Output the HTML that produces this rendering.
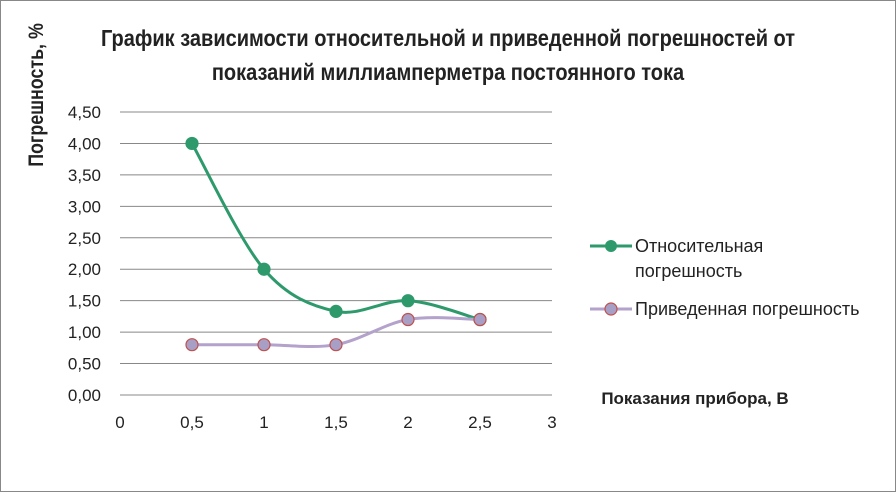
<!DOCTYPE html>
<html><head><meta charset="utf-8"><style>
body{margin:0;background:#fff}
svg text{font-family:"Liberation Sans",sans-serif}
</style></head><body>
<svg id="c" width="896" height="492" xmlns="http://www.w3.org/2000/svg">
<rect x="0.5" y="0.5" width="895" height="491" fill="#fff" stroke="#888"/>
<g font-weight="bold" font-size="23" text-anchor="middle" fill="#222">
<text x="448" y="46" transform="translate(448 0) scale(0.87 1) translate(-448 0)">График зависимости относительной и приведенной погрешностей от</text>
<text x="448" y="80" transform="translate(448 0) scale(0.87 1) translate(-448 0)">показаний миллиамперметра постоянного тока</text>
</g>
<text font-weight="bold" font-size="21" fill="#222" text-anchor="middle" transform="translate(43 95) rotate(-90) scale(0.85 1)">Погрешность, %</text>
<text x="695" y="404" font-weight="bold" font-size="17" fill="#222" text-anchor="middle">Показания прибора, В</text>
<g id="grid"></g>
<g id="ticks" font-size="17" fill="#222"></g>
<g id="series"></g>
<g font-size="18" fill="#222">
<g>
<line x1="590" y1="246" x2="632" y2="246" stroke="#2e9a6c" stroke-width="3"/>
<circle cx="611" cy="246" r="6" fill="#2e9a6c"/>
<text x="635" y="252">Относительная</text><text x="635" y="277">погрешность</text>
</g>
<g>
<line x1="590" y1="309" x2="632" y2="309" stroke="#b3a2cb" stroke-width="3"/>
<circle cx="611" cy="309" r="6" fill="#a89fc6" stroke="#c0504d" stroke-width="1.2"/>
<text x="635" y="315">Приведенная погрешность</text>
</g>
</g>
</svg>
<script>
const xCats=[0.5,1,1.5,2,2.5];
const relValues=[4.0,2.0,1.33,1.5,1.2];
const redValues=[0.8,0.8,0.8,1.2,1.2];
const yTicks=["0,00","0,50","1,00","1,50","2,00","2,50","3,00","3,50","4,00","4,50"];
const xTicks=["0","0,5","1","1,5","2","2,5","3"];
const NS="http://www.w3.org/2000/svg";
const X=v=>120+v*144;
const Y=v=>395-v*(283/4.5);
function mk(t,a,p){const e=document.createElementNS(NS,t);for(const k in a)e.setAttribute(k,a[k]);p.appendChild(e);return e;}
const grid=document.getElementById('grid'),ticks=document.getElementById('ticks'),ser=document.getElementById('series');
yTicks.forEach((s,i)=>{const v=i*0.5;
const l=mk('line',{x1:120,x2:552,y1:Y(v),y2:Y(v),stroke:'#888','stroke-width':1},grid);


const t=mk('text',{x:101,y:Y(v)+6,'text-anchor':'end'},ticks);t.textContent=s;

});
xTicks.forEach((s,i)=>{const t=mk('text',{x:X(i*0.5),y:428,'text-anchor':'middle'},ticks);t.textContent=s;

});
function smooth(pts){let d=`M${pts[0][0]},${pts[0][1]}`;
for(let i=0;i<pts.length-1;i++){const p0=pts[i-1]||pts[i],p1=pts[i],p2=pts[i+1],p3=pts[i+2]||p2;const k=6;
d+=` C${p1[0]+(p2[0]-p0[0])/k},${p1[1]+(p2[1]-p0[1])/k} ${p2[0]-(p3[0]-p1[0])/k},${p2[1]-(p3[1]-p1[1])/k} ${p2[0]},${p2[1]}`;}
return d;}
function draw(vals,color,fill,stroke,name){
const pts=vals.map((v,i)=>[X(xCats[i]),Y(v)]);
const p=mk('path',{d:smooth(pts),fill:'none',stroke:color,'stroke-width':3},ser);


pts.forEach(q=>{const c=mk('circle',{cx:q[0],cy:q[1],r:6,fill:fill,stroke:stroke,'stroke-width':1.2},ser);

});}
draw(relValues,'#2e9a6c','#2e9a6c','#2e9a6c','relative-error');
draw(redValues,'#b3a2cb','#a89fc6','#c0504d','reduced-error');
</script>
</body></html>
